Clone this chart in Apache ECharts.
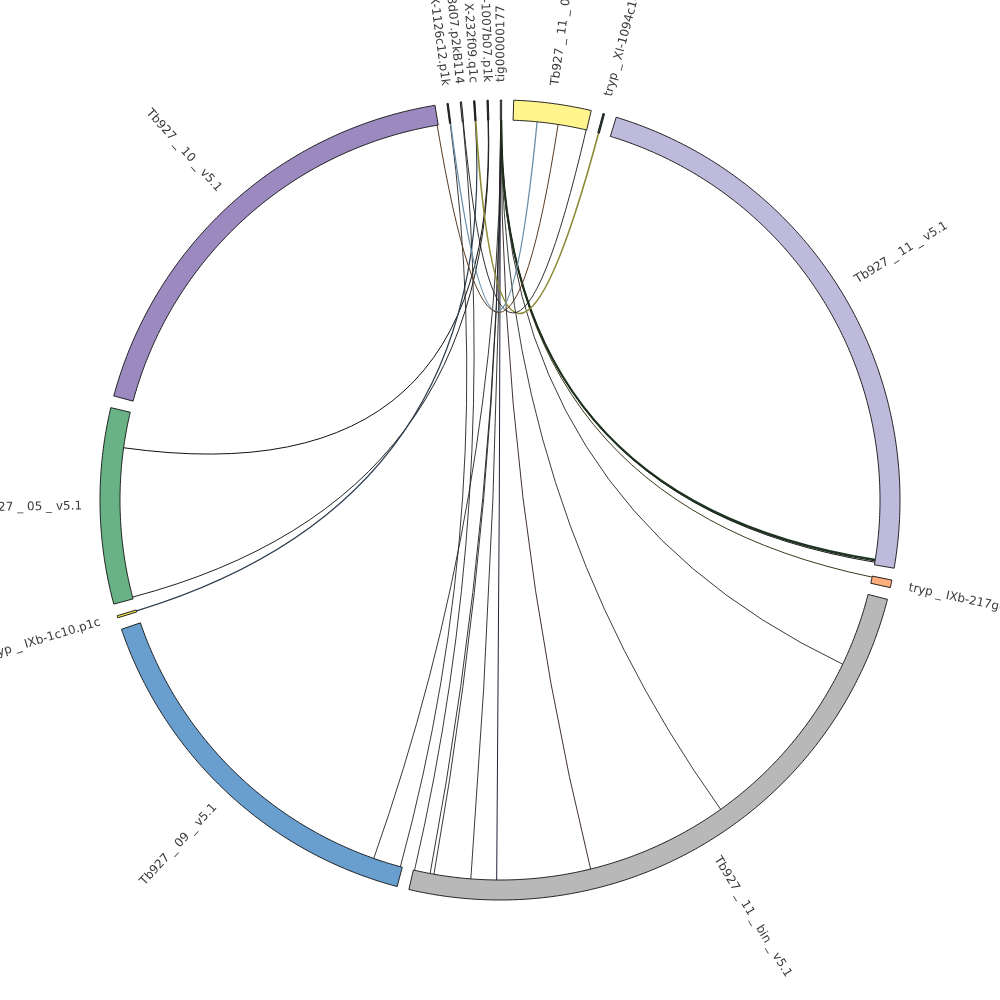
<!DOCTYPE html>
<html><head><meta charset="utf-8">
<script src="https://cdn.jsdelivr.net/npm/echarts@6/dist/echarts.min.js"></script>
<style>html,body{margin:0;padding:0;background:#fff}#c{width:1000px;height:1000px}</style>
</head><body><div id="c"></div>
<script>
// Segments (clockwise from top), lengths in Mb
const segNames = ['tig00000177','Tb927_11_01_v5.1','tryp_XI-1094c10.p1k','Tb927_11_v5.1','tryp_IXb-217g02.p1k','Tb927_11_bin_v5.1','Tb927_09_v5.1','tryp_IXb-1c10.p1c','Tb927_05_v5.1','Tb927_10_v5.1','tryp_X-1126c12.p1k','tryp_X-98d07.p2kB114','tryp_X-232f09.q1c','tryp_X-1007b07.p1k'];
const segLengths = [0.012, 0.71, 0.015, 5.25, 0.07, 5.62, 3.56, 0.02, 1.80, 4.15, 0.012, 0.012, 0.012, 0.012];
const segColors = ['#a9cfe2','#fff58c','#2c4a30','#bdbadb','#fcae7c','#b8b8b8','#699fce','#f2e04a','#69b286','#9c89c0','#3a2a1e','#8a9898','#2a2020','#24302e'];
const gapMb = 0.1095;

// Links: source segment, position (Mb), target segment, position (Mb)
const chordFrom    = ['tig00000177','tig00000177','tig00000177','tig00000177','tig00000177','tig00000177','tig00000177','tig00000177','tig00000177','tig00000177','tig00000177','tig00000177','tryp_X-1007b07.p1k','tryp_X-1007b07.p1k','tryp_X-232f09.q1c','tryp_X-232f09.q1c','tryp_X-98d07.p2kB114','tryp_X-98d07.p2kB114','tryp_X-1126c12.p1k','tryp_X-1126c12.p1k','Tb927_10_v5.1'];
const chordFromPos = [0.002,0.003,0.004,0.005,0.006,0.007,0.008,0.009,0.010,0.011,0.006,0.004,0.004,0.008,0.004,0.008,0.006,0.010,0.006,0.010,4.14];
const chordTo      = ['Tb927_11_bin_v5.1','Tb927_11_bin_v5.1','Tb927_11_bin_v5.1','Tb927_11_bin_v5.1','Tb927_09_v5.1','Tb927_11_bin_v5.1','Tb927_11_bin_v5.1','Tb927_11_bin_v5.1','Tb927_11_v5.1','Tb927_11_v5.1','tryp_IXb-217g02.p1k','Tb927_11_v5.1','Tb927_05_v5.1','Tb927_05_v5.1','tryp_IXb-1c10.p1c','tryp_XI-1094c10.p1k','Tb927_11_bin_v5.1','Tb927_11_01_v5.1','Tb927_09_v5.1','Tb927_11_01_v5.1','Tb927_11_01_v5.1'];
const chordToPos   = [4.818,5.065,5.420,5.457,0.285,3.913,2.539,0.710,5.200,5.225,0.010,5.212,1.455,0.018,0.010,0.008,5.609,0.705,0.019,0.230,0.432];
const chordColors  = ['#22223a','#222','#222','#1e1e2a','#222','#2a1a1a','#1e2e22','#222','#1c3424','#1a1a1a','#3a3a1a','#20301e','#111','#222','#2e3e4e','#8c8a36','#222','#1a1a1a','#222','#6a8fa8','#5a3a20'];
const chordWidths  = [1,0.9,0.9,0.9,0.9,0.9,0.9,0.9,1.8,1,1,1.4,1,1,1.2,1.6,0.9,0.9,0.9,1.3,1];

const segStart = [];
let acc = 0;
for (let i = 0; i < segNames.length; i++) { segStart.push(acc); acc += segLengths[i] + gapMb; }
const total = acc;
const idxOf = n => segNames.indexOf(n);

const chart = echarts.init(document.getElementById('c'));
chart.setOption({
  backgroundColor: '#fff',
  animation: false,
  polar: { center: ['50%', '50%'], radius: 400 },
  angleAxis: { type: 'value', min: 0, max: total, startAngle: 89.95, clockwise: true, show: false },
  radiusAxis: { type: 'value', min: 0, max: 400, show: false },
  series: [
    {
      type: 'custom', coordinateSystem: 'polar', silent: true,
      data: chordFrom.map((f, i) => [segStart[idxOf(f)] + chordFromPos[i], segStart[idxOf(chordTo[i])] + chordToPos[i], i]),
      renderItem: function (params, api) {
        const i = api.value(2);
        const p0 = api.coord([380, api.value(0)]);
        const p1 = api.coord([380, api.value(1)]);
        const c = api.coord([0, 0]);
        return {
          type: 'bezierCurve',
          shape: { x1: p0[0], y1: p0[1], x2: p1[0], y2: p1[1], cpx1: c[0], cpy1: c[1] },
          style: { fill: 'none', stroke: chordColors[i], lineWidth: chordWidths[i] }
        };
      }
    },
    {
      type: 'custom', coordinateSystem: 'polar', silent: true,
      data: segNames.map((n, i) => [segStart[i], segStart[i] + segLengths[i], i]),
      renderItem: function (params, api) {
        const a0 = api.value(0), a1 = api.value(1), i = api.value(2);
        const n = Math.max(2, Math.ceil((a1 - a0) / total * 360 / 0.5));
        const pts = [];
        for (let k = 0; k <= n; k++) pts.push(api.coord([400, a0 + (a1 - a0) * k / n]));
        for (let k = n; k >= 0; k--) pts.push(api.coord([380, a0 + (a1 - a0) * k / n]));
        const mid = (a0 + a1) / 2;
        const c = api.coord([0, 0]);
        const p = api.coord([418, mid]);
        const phi = Math.atan2(p[1] - c[1], p[0] - c[0]);
        let rot, align;
        if (p[0] >= c[0]) { rot = -phi; align = 'left'; }
        else { rot = -(phi + Math.PI); align = 'right'; }
        return {
          type: 'group',
          children: [
            { type: 'polygon', shape: { points: pts }, style: { fill: segColors[i], stroke: '#111', lineWidth: 0.9 } },
            { type: 'text', x: p[0], y: p[1], rotation: rot,
              style: { text: segNames[i].replace(/_/g, ' _ '), fill: '#3a3a3a', font: '12px "DejaVu Sans"', align: align, verticalAlign: 'middle' } }
          ]
        };
      }
    }
  ]
});
</script>
</body></html>
